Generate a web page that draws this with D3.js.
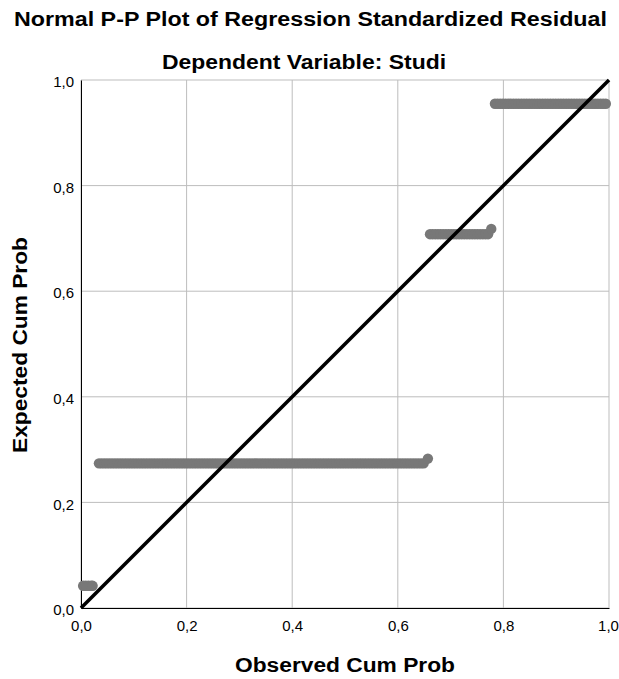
<!DOCTYPE html>
<html>
<head>
<meta charset="utf-8">
<script src="https://cdn.jsdelivr.net/npm/d3@7"></script>
<style>
  html, body { margin: 0; padding: 0; background: #fff; }
  svg { display: block; font-family: "Liberation Sans", Arial, sans-serif; }
</style>
</head>
<body>
<svg id="chart" width="619" height="679"></svg>
<script>
// ---- data ----
const chartTitle = "Normal P-P Plot of Regression Standardized Residual";
const chartSubtitle = "Dependent Variable: Studi";
const xTitle = "Observed Cum Prob";
const yTitle = "Expected Cum Prob";
const tickValues = [0, 0.2, 0.4, 0.6, 0.8, 1.0];
const tickLabels = ["0,0", "0,2", "0,4", "0,6", "0,8", "1,0"];

const observed = [
  0.004, 0.009, 0.014, 0.019, 0.022,
  0.034, 0.039, 0.044, 0.049, 0.054, 0.059, 0.064, 0.069, 0.074, 0.079,
  0.084, 0.089, 0.094, 0.099, 0.104, 0.109, 0.114, 0.119, 0.124, 0.129,
  0.134, 0.139, 0.144, 0.149, 0.154, 0.159, 0.164, 0.169, 0.174, 0.179,
  0.184, 0.189, 0.194, 0.199, 0.204, 0.209, 0.214, 0.219, 0.224, 0.229,
  0.234, 0.239, 0.244, 0.249, 0.254, 0.259, 0.264, 0.269, 0.274, 0.279,
  0.284, 0.289, 0.294, 0.299, 0.304, 0.309, 0.314, 0.319, 0.324, 0.329,
  0.334, 0.339, 0.344, 0.349, 0.354, 0.359, 0.364, 0.369, 0.374, 0.379,
  0.384, 0.389, 0.394, 0.399, 0.404, 0.409, 0.414, 0.419, 0.424, 0.429,
  0.434, 0.439, 0.444, 0.449, 0.454, 0.459, 0.464, 0.469, 0.474, 0.479,
  0.484, 0.489, 0.494, 0.499, 0.504, 0.509, 0.514, 0.519, 0.524, 0.529,
  0.534, 0.539, 0.544, 0.549, 0.554, 0.559, 0.564, 0.569, 0.574, 0.579,
  0.584, 0.589, 0.594, 0.599, 0.604, 0.609, 0.614, 0.619, 0.624, 0.629,
  0.634, 0.639, 0.644, 0.649, 0.657,
  0.661, 0.666, 0.671, 0.676, 0.681, 0.686, 0.691, 0.696, 0.701, 0.706,
  0.711, 0.716, 0.721, 0.726, 0.731, 0.736, 0.741, 0.746, 0.751, 0.756,
  0.761, 0.766, 0.771, 0.777,
  0.784, 0.789, 0.794, 0.799, 0.804, 0.809, 0.814, 0.819, 0.824, 0.829,
  0.834, 0.839, 0.844, 0.849, 0.854, 0.859, 0.864, 0.869, 0.874, 0.879,
  0.884, 0.889, 0.894, 0.899, 0.904, 0.909, 0.914, 0.919, 0.924, 0.929,
  0.934, 0.939, 0.944, 0.949, 0.954, 0.959, 0.964, 0.969, 0.974, 0.979,
  0.984, 0.989, 0.994
];
const expected = [
  0.042, 0.042, 0.042, 0.042, 0.042,
  0.274, 0.274, 0.274, 0.274, 0.274, 0.274, 0.274, 0.274, 0.274, 0.274,
  0.274, 0.274, 0.274, 0.274, 0.274, 0.274, 0.274, 0.274, 0.274, 0.274,
  0.274, 0.274, 0.274, 0.274, 0.274, 0.274, 0.274, 0.274, 0.274, 0.274,
  0.274, 0.274, 0.274, 0.274, 0.274, 0.274, 0.274, 0.274, 0.274, 0.274,
  0.274, 0.274, 0.274, 0.274, 0.274, 0.274, 0.274, 0.274, 0.274, 0.274,
  0.274, 0.274, 0.274, 0.274, 0.274, 0.274, 0.274, 0.274, 0.274, 0.274,
  0.274, 0.274, 0.274, 0.274, 0.274, 0.274, 0.274, 0.274, 0.274, 0.274,
  0.274, 0.274, 0.274, 0.274, 0.274, 0.274, 0.274, 0.274, 0.274, 0.274,
  0.274, 0.274, 0.274, 0.274, 0.274, 0.274, 0.274, 0.274, 0.274, 0.274,
  0.274, 0.274, 0.274, 0.274, 0.274, 0.274, 0.274, 0.274, 0.274, 0.274,
  0.274, 0.274, 0.274, 0.274, 0.274, 0.274, 0.274, 0.274, 0.274, 0.274,
  0.274, 0.274, 0.274, 0.274, 0.274, 0.274, 0.274, 0.274, 0.274, 0.274,
  0.274, 0.274, 0.274, 0.274, 0.283,
  0.708, 0.708, 0.708, 0.708, 0.708, 0.708, 0.708, 0.708, 0.708, 0.708,
  0.708, 0.708, 0.708, 0.708, 0.708, 0.708, 0.708, 0.708, 0.708, 0.708,
  0.708, 0.708, 0.708, 0.718,
  0.955, 0.955, 0.955, 0.955, 0.955, 0.955, 0.955, 0.955, 0.955, 0.955,
  0.955, 0.955, 0.955, 0.955, 0.955, 0.955, 0.955, 0.955, 0.955, 0.955,
  0.955, 0.955, 0.955, 0.955, 0.955, 0.955, 0.955, 0.955, 0.955, 0.955,
  0.955, 0.955, 0.955, 0.955, 0.955, 0.955, 0.955, 0.955, 0.955, 0.955,
  0.955, 0.955, 0.955
];
const refLine = [[0, 0], [1, 1]];

// ---- layout ----
const svg = d3.select("#chart");
const plotLeft = 81, plotRight = 609, plotTop = 80, plotBottom = 608;

const x = d3.scaleLinear().domain([0, 1]).range([plotLeft, plotRight]);
const y = d3.scaleLinear().domain([0, 1]).range([plotBottom, plotTop]);

function boldText(xp, yp, str, len) {
  return svg.append("text").attr("x", xp).attr("y", yp)
    .attr("text-anchor", "middle").attr("font-weight", "bold").attr("font-size", 20)
    .attr("textLength", len).attr("lengthAdjust", "spacingAndGlyphs")
    .text(str);
}

// titles
boldText(310.5, 26, chartTitle, 593);
boldText(304, 69, chartSubtitle, 284);

// gridlines
const grid = svg.append("g");
grid.selectAll("line.v").data(tickValues).join("line")
  .attr("class", "v")
  .attr("x1", d => x(d)).attr("x2", d => x(d))
  .attr("y1", plotTop).attr("y2", plotBottom)
  .attr("stroke", "#bdbdbd").attr("stroke-width", 1);
grid.selectAll("line.h").data(tickValues).join("line")
  .attr("class", "h")
  .attr("y1", d => y(d)).attr("y2", d => y(d))
  .attr("x1", plotLeft).attr("x2", plotRight)
  .attr("stroke", "#bdbdbd").attr("stroke-width", 1);

// axes
const xAxis = d3.axisBottom(x).tickValues(tickValues)
  .tickFormat((d, i) => tickLabels[i]).tickSize(0).tickPadding(12);
const yAxis = d3.axisLeft(y).tickValues(tickValues)
  .tickFormat((d, i) => tickLabels[i]).tickSize(0).tickPadding(7);

const gx = svg.append("g").attr("transform", `translate(0,${plotBottom})`).call(xAxis);
const gy = svg.append("g").attr("transform", `translate(${plotLeft},0)`).call(yAxis);
[gx, gy].forEach(g => {
  g.select(".domain").attr("stroke", "#000").attr("stroke-width", 1);
  g.selectAll("text").attr("font-size", 15).attr("fill", "#000")
    .attr("font-family", "Liberation Sans, Arial, sans-serif");
});
gy.selectAll("text").attr("dy", "0.45em");
gx.selectAll(".tick:last-of-type text").attr("dx", "-1px");

// points
svg.append("g").selectAll("circle").data(observed.map((o, i) => [o, expected[i]]))
  .join("circle")
  .attr("cx", d => x(d[0])).attr("cy", d => y(d[1]))
  .attr("r", 5.2).attr("fill", "#787878");

// reference line
svg.append("path").datum(refLine)
  .attr("d", d3.line().x(d => x(d[0])).y(d => y(d[1])))
  .attr("stroke", "#000").attr("stroke-width", 3.5).attr("fill", "none");

// axis titles
boldText(345, 672, xTitle, 220);
boldText(0, 0, yTitle, 216).attr("transform", "translate(27,345) rotate(-90)");
</script>
</body>
</html>
